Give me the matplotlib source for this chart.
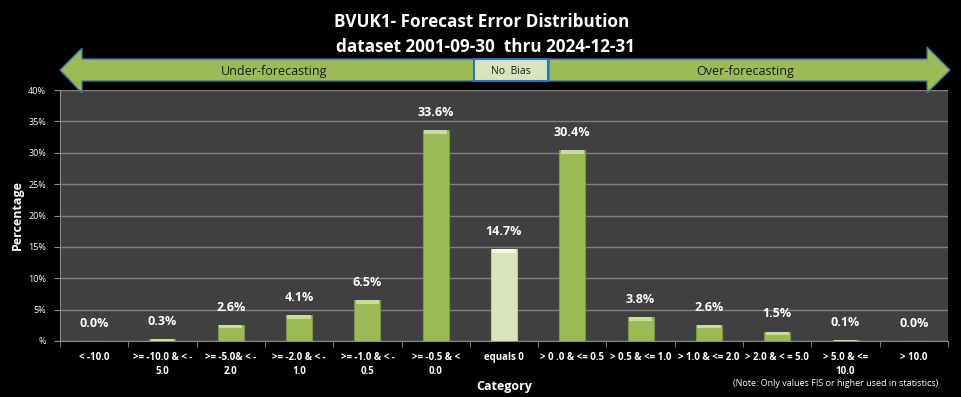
import matplotlib.pyplot as plt
from matplotlib.patches import Polygon, Rectangle

# chart data
categories = ["< -10.0", ">= -10.0 & < -\n5.0", ">= -5.0& < -\n2.0", ">= -2.0 & < -\n1.0",
              ">= -1.0 & < -\n0.5", ">= -0.5 & <\n0.0", "equals 0", "> 0 .0 & <= 0.5",
              "> 0.5 & <= 1.0", "> 1.0 & <= 2.0", "> 2.0 & < = 5.0", "> 5.0 & <=\n10.0", "> 10.0"]
values = [0.0, 0.3, 2.6, 4.1, 6.5, 33.6, 14.7, 30.4, 3.8, 2.6, 1.5, 0.1, 0.0]
y_ticks = [0, 5, 10, 15, 20, 25, 30, 35, 40]
y_tick_labels = ["%", "5%", "10%", "15%", "20%", "25%", "30%", "35%", "40%"]

W, H = 961, 397
plt.rcParams['font.family'] = ['Open Sans', 'DejaVu Sans']

fig = plt.figure(figsize=(W / 100, H / 100), dpi=100, facecolor='black')
ax = fig.add_axes([60 / W, 1 - 341 / H, (948 - 60) / W, (341 - 90) / H])
ax.set_facecolor('#404040')

x = list(range(len(categories)))
colors = ['#D7E4BD' if c == "equals 0" else '#9BBB59' for c in categories]
edges = ['#B8C99A' if c == "equals 0" else '#7A9A3E' for c in categories]
ax.bar(x, values, width=0.38, color=colors, edgecolor=edges, linewidth=0.8, zorder=3)
# light bevel on top of each bar
tops = [min(v, 0.6) for v in values]
ax.bar(x, tops, bottom=[v - t for v, t in zip(values, tops)], width=0.34,
       color=['#F2F7E6' if c == "equals 0" else '#C9DD94' for c in categories],
       linewidth=0, zorder=4)

for xi, v in zip(x, values):
    ax.annotate(f"{v:.1f}%", (xi, v), xytext=(0, 8), textcoords='offset points',
                ha='center', va='bottom', color='white', fontsize=9, fontweight='bold')

ax.set_xlim(-0.5, len(categories) - 0.5)
ax.set_ylim(0, 40)
ax.set_yticks(y_ticks)
ax.set_yticklabels(y_tick_labels, color='white', fontsize=6.5)
ax.yaxis.grid(True, color='#7F7F7F', linewidth=1, zorder=0)
ax.set_axisbelow(True)

ax.set_xticks(x)
ax.set_xticklabels(categories, color='white', fontsize=7, fontweight='bold', linespacing=1.35)
ax.tick_params(axis='x', length=0, pad=8)
ax.set_xticks([i - 0.5 for i in range(len(categories) + 1)], minor=True)
ax.tick_params(axis='x', which='minor', length=4, color='#8C8C8C')
ax.tick_params(axis='y', length=4, color='#8C8C8C', pad=6)

for s in ['top', 'right']:
    ax.spines[s].set_visible(False)
ax.spines['left'].set_color('#8C8C8C')
ax.spines['bottom'].set_color('#8C8C8C')

ax.set_xlabel("Category", color='white', fontsize=9, fontweight='bold', labelpad=2)
fig.text(17 / W, 1 - 215 / H, "Percentage", rotation=90, ha='center', va='center',
         color='white', fontsize=9, fontweight='bold')


def px(pts):
    return [(a / W, 1 - b / H) for a, b in pts]


fig.text(482 / W, 1 - 22 / H, "BVUK1- Forecast Error Distribution", ha='center', va='center',
         color='white', fontsize=12.3, fontweight='bold')
fig.text(485 / W, 1 - 47 / H, "dataset 2001-09-30  thru 2024-12-31", ha='center', va='center',
         color='white', fontsize=12.3, fontweight='bold')

left_arrow = px([(60, 70), (82, 48), (82, 59), (474, 59), (474, 81), (82, 81), (82, 93)])
right_arrow = px([(950, 70), (927, 47), (927, 59), (549, 59), (549, 81), (927, 81), (927, 93)])
for poly in (left_arrow, right_arrow):
    fig.patches.append(Polygon(poly, closed=True, facecolor='#9BBB59', edgecolor='#41719C',
                               linewidth=1, transform=fig.transFigure, figure=fig))
fig.patches.append(Rectangle((474 / W, 1 - 81 / H), 74 / W, 22 / H, facecolor='#D7E4BD',
                             edgecolor='#2E75B6', linewidth=1.5, transform=fig.transFigure, figure=fig))

fig.text(274 / W, 1 - 71 / H, "Under-forecasting", ha='center', va='center', color='#1A1A1A', fontsize=9)
fig.text(511 / W, 1 - 71 / H, "No  Bias", ha='center', va='center', color='#1A1A1A', fontsize=7.5)
fig.text(745 / W, 1 - 71 / H, "Over-forecasting", ha='center', va='center', color='#1A1A1A', fontsize=9)
fig.text(938 / W, 1 - 383 / H, "(Note: Only values FIS or higher used in statistics)", ha='right',
         va='center', color='white', fontsize=6.5)

fig.savefig("out.png", dpi=100, facecolor='black')
